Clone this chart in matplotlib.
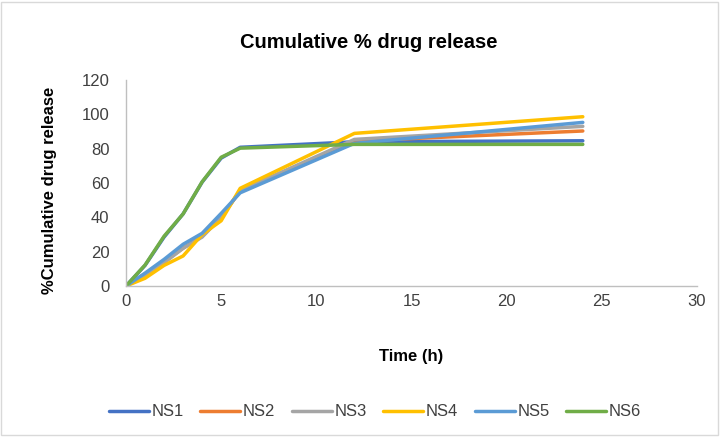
import matplotlib
matplotlib.use("Agg")
import matplotlib.pyplot as plt
from matplotlib.patches import Rectangle

time_h = [0, 1, 2, 3, 4, 5, 6, 12, 24]
series_names = ["NS1", "NS2", "NS3", "NS4", "NS5", "NS6"]
ns1 = [0, 12, 28.5, 42, 60.5, 74.5, 80.8, 84, 84.6]
ns2 = [0, 7, 14, 22, 29, 40, 55.5, 84.4, 90.3]
ns3 = [0, 6.5, 13.5, 22, 28.5, 40, 55.5, 85.4, 93]
ns4 = [0, 4.5, 12, 17.5, 30, 38, 56.9, 88.9, 98.6]
ns5 = [0, 7.5, 15.5, 24.3, 30.7, 42.3, 54.3, 83.1, 95.3]
ns6 = [0, 12.2, 29, 42, 60.7, 75, 80.3, 82.5, 82.5]
colors = ["#4472C4", "#ED7D31", "#A5A5A5", "#FFC000", "#5B9BD5", "#70AD47"]

plt.rcParams['font.family'] = ['Liberation Sans', 'DejaVu Sans']

fig = plt.figure(figsize=(7.24, 4.37), dpi=100)
ax = fig.add_axes([126/724, 1-286/437, (697-126)/724, (286-80)/437])

for name, vals, c in zip(series_names, [ns1, ns2, ns3, ns4, ns5, ns6], colors):
    ax.plot(time_h, vals, color=c, lw=2.5, label=name, solid_capstyle='round')

ax.set_xlim(0, 30)
ax.set_ylim(0, 120)
ax.set_xticks(range(0, 31, 5))
ax.set_yticks(range(0, 121, 20))
for s in ["top", "right"]:
    ax.spines[s].set_visible(False)
for s in ["left", "bottom"]:
    ax.spines[s].set_color("#BFBFBF")
    ax.spines[s].set_linewidth(1)
ax.tick_params(length=0, labelsize=12, colors="#404040", pad=6)
ax.tick_params(axis='y', pad=12)

fig.text(369/724, 1-43/437, "Cumulative % drug release", ha="center", va="center",
         fontsize=14.5, fontweight="bold", color="#000000")
fig.text(411/724, 1-357/437, "Time (h)", ha="center", va="center",
         fontsize=12, fontweight="bold")
fig.text(50/724, 1-190/437, "%Cumulative drug release", ha="center", va="center",
         rotation=90, fontsize=12, fontweight="bold")

leg = fig.legend(loc="center", bbox_to_anchor=(375/724, 1-412/437), ncol=6,
                 frameon=False, fontsize=12, handlelength=2.4, handletextpad=0.15,
                 columnspacing=1.0)
for t in leg.get_texts():
    t.set_color("#404040")

fig.patches.append(Rectangle((0.002, 0.005), 0.99, 0.99, transform=fig.transFigure,
                             fill=False, edgecolor="#D9D9D9", lw=1))

fig.savefig("out.png", dpi=100)
